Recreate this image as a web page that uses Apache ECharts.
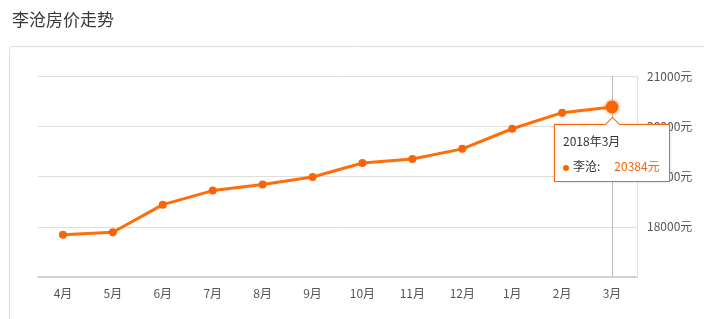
<!DOCTYPE html>
<html>
<head>
<meta charset="utf-8">
<script src="https://cdn.jsdelivr.net/npm/echarts@6/dist/echarts.min.js"></script>
<style>
html,body{margin:0;padding:0;background:#fff;}
#c{width:704px;height:319px;}
</style>
</head>
<body>
<div id="c"></div>
<script>
var titleText = '李沧房价走势';
var seriesName = '李沧';
var categories = ['4月','5月','6月','7月','8月','9月','10月','11月','12月','1月','2月','3月'];
var fullDates = ['2017年4月','2017年5月','2017年6月','2017年7月','2017年8月','2017年9月','2017年10月','2017年11月','2017年12月','2018年1月','2018年2月','2018年3月'];
var prices = [17840, 17890, 18440, 18720, 18840, 18990, 19270, 19350, 19550, 19950, 20270, 20384];
var yMin = 17000, yMax = 21000, yStep = 1000;
var unit = '元';

var ORANGE = '#f96408';
var font = '"Noto Sans CJK SC", "Noto Sans", sans-serif';

var chart = echarts.init(document.getElementById('c'));
chart.setOption({
  animation: false,
  textStyle: {fontFamily: font},
  title: {
    text: titleText, left: 7, top: 6,
    textStyle: {fontSize: 17, fontWeight: 'normal', color: '#3a3a3a', fontFamily: font}
  },
  graphic: [{
    type: 'rect', silent: true, z: -10,
    shape: {x: 9.5, y: 46.5, width: 800, height: 400, r: 3},
    style: {fill: 'none', stroke: '#dcdcdc', lineWidth: 1}
  }],
  grid: {left: 38, right: 67, top: 76, bottom: 42},
  tooltip: {
    trigger: 'axis',
    alwaysShowContent: true,
    backgroundColor: '#fff',
    borderColor: ORANGE,
    borderWidth: 1,
    padding: [7, 9, 6, 8],
    extraCssText: 'box-shadow:0 0 3px rgba(0,0,0,0.15);border-radius:0;overflow:visible;',
    axisPointer: {type: 'line', lineStyle: {color: '#bbb', width: 1, type: 'solid'}, z: 0},
    position: function (point, params, dom, rect, size) {
      return [point[0] - size.contentSize[0] / 2, point[1] + 17];
    },
    formatter: function (params) {
      var p = params[0];
      var arrow = '<div style="position:absolute;left:50%;top:-6px;margin-left:-5px;width:10px;height:10px;background:#fff;border-left:1px solid ' + ORANGE + ';border-top:1px solid ' + ORANGE + ';transform:rotate(45deg);"></div>';
      return arrow +
        '<div style="font-size:12px;color:#333;line-height:18px;">' + fullDates[p.dataIndex] + '</div>' +
        '<div style="font-size:12px;color:#333;line-height:18px;margin-top:7px;">' +
        '<span style="display:inline-block;width:6px;height:6px;border-radius:3px;background:' + ORANGE + ';margin-right:4px;vertical-align:middle;"></span>' +
        seriesName + ':<span style="color:' + ORANGE + ';margin-left:14px;">' + p.value + unit + '</span></div>';
    }
  },
  xAxis: {
    type: 'category',
    data: categories,
    boundaryGap: true,
    axisLine: {lineStyle: {color: '#d2d2d2', width: 2}},
    axisTick: {alignWithLabel: true, length: 3, lineStyle: {color: '#e6e6e6'}},
    axisLabel: {color: '#555', fontSize: 12, margin: 10}
  },
  yAxis: {
    type: 'value',
    position: 'right',
    min: yMin, max: yMax, interval: yStep,
    axisLine: {show: true, lineStyle: {color: '#e2e2e2'}},
    axisTick: {show: false},
    splitLine: {lineStyle: {color: '#dedede'}},
    axisLabel: {
      color: '#555', fontSize: 12, margin: 10, showMinLabel: false,
      formatter: function (v) { return v + unit; }
    }
  },
  series: [{
    name: seriesName,
    type: 'line',
    data: prices,
    symbol: 'circle',
    symbolSize: 8,
    lineStyle: {color: ORANGE, width: 3},
    itemStyle: {color: ORANGE},
    emphasis: {
      scale: 1.6,
      itemStyle: {color: ORANGE, borderColor: 'rgba(249,100,8,0.22)', borderWidth: 4}
    }
  }]
});
chart.dispatchAction({type: 'showTip', seriesIndex: 0, dataIndex: prices.length - 1});
chart.dispatchAction({type: 'highlight', seriesIndex: 0, dataIndex: prices.length - 1});
</script>
</body>
</html>
